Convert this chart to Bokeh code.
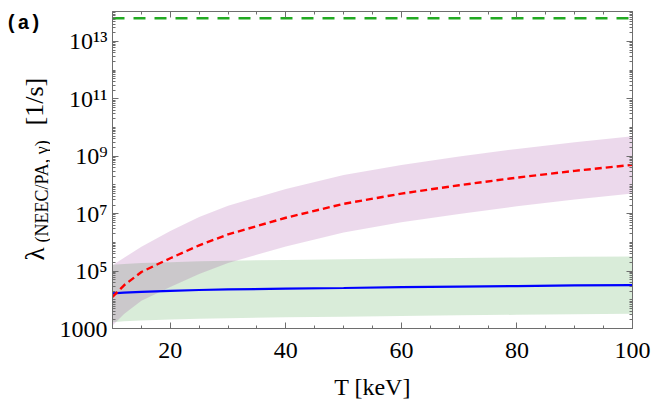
import numpy as np
from bokeh.plotting import figure
from bokeh.layouts import row
from bokeh.models import Range1d, FixedTicker, LinearAxis, LogAxis, Label, CustomJSTickFormatter
from bokeh.embed import file_html
from bokeh.resources import INLINE

# ---------------- data ----------------
T = [10, 12, 15, 20, 25, 30, 40, 50, 60, 70, 80, 90, 100]

# NEEC/PA rate (red dashed) and its uncertainty band (purple)
neec = [1.26e4, 3.2e4, 9.3e4, 2.8e5, 7.9e5, 1.9e6, 7.2e6, 2.2e7, 5.0e7, 9.8e7, 1.8e8, 3.1e8, 5.0e8]
neec_hi = [1.6e5, 2.9e5, 7.1e5, 2.5e6, 7.6e6, 1.9e7, 7.2e7, 2.2e8, 5.0e8, 9.8e8, 1.8e9, 3.1e9, 5.0e9]
neec_lo = [1.26e3, 3.2e3, 9.3e3, 2.8e4, 7.9e4, 1.9e5, 7.2e5, 2.2e6, 5.0e6, 9.8e6, 1.8e7, 3.1e7, 5.0e7]

# gamma rate (blue solid) and its band (green)
gam = [1.66e4, 1.78e4, 1.9e4, 2.04e4, 2.19e4, 2.29e4, 2.45e4, 2.57e4, 2.75e4, 2.88e4, 3.0e4, 3.16e4, 3.24e4]
gam_hi = [1.66e5, 1.78e5, 1.9e5, 2.04e5, 2.19e5, 2.29e5, 2.45e5, 2.57e5, 2.75e5, 2.88e5, 3.0e5, 3.16e5, 3.24e5]
gam_lo = [1.66e3, 1.78e3, 1.9e3, 2.04e3, 2.19e3, 2.29e3, 2.45e3, 2.57e3, 2.75e3, 2.88e3, 3.0e3, 3.16e3, 3.24e3]

# constant reference rate (green dashed)
T_ref = [10, 100]
ref_rate = [6.4e13, 6.4e13]

x_major = [20, 40, 60, 80, 100]
x_minor = [15, 25, 30, 35, 45, 50, 55, 65, 70, 75, 85, 90, 95]
y_major = [1e3, 1e5, 1e7, 1e9, 1e11, 1e13]
y_labels = ["1000", "10⁵", "10⁷", "10⁹", "10¹¹", "10¹³"]
y_minor = [k * 10.0 ** n for n in range(3, 15) for k in range(1, 10)
           if (k * 10.0 ** n) not in y_major and k * 10.0 ** n < 1.1e14]

SERIF = "Liberation Serif"
FRAME = "#6e6e6e"
H = 408
GW = 50          # width of the left gutter that carries the y title
MW = 606         # width of the main figure
FB = 328         # frame bottom (page px); gutter frame is synced to it

p = figure(width=MW, height=H, x_range=Range1d(10, 100), y_range=Range1d(1e3, 1.1e14),
           y_axis_type="log", output_backend="svg", toolbar_location=None,
           min_border_left=62, min_border_right=24, min_border_top=11, min_border_bottom=80)
p.grid.visible = False
p.outline_line_color = FRAME
p.background_fill_color = "white"
p.border_fill_color = "white"

# bands
p.varea(x=T, y1=gam_lo, y2=gam_hi, fill_color="#008000", fill_alpha=0.15)
p.varea(x=T, y1=neec_lo, y2=neec_hi, fill_color="#800080", fill_alpha=0.15)
# lines
p.line(T, gam, line_color="#0000ff", line_width=2.2)
p.line(T, neec, line_color="#ff0000", line_width=2.4, line_dash="7 4")
p.line(T_ref, ref_rate, line_color="#22aa22", line_width=2.4, line_dash="12 9")

xt = FixedTicker(ticks=x_major, minor_ticks=x_minor)
yt = FixedTicker(ticks=y_major, minor_ticks=y_minor)
blank = CustomJSTickFormatter(code="return ''")

def style_axis(ax, ticker):
    ax.ticker = ticker
    ax.axis_line_color = FRAME
    ax.major_tick_line_color = FRAME
    ax.minor_tick_line_color = FRAME
    ax.major_tick_in = 6
    ax.major_tick_out = 0
    ax.minor_tick_in = 3
    ax.minor_tick_out = 0

style_axis(p.xaxis[0], xt)
p.xaxis.major_label_text_font = SERIF
p.xaxis.major_label_text_font_size = "24px"
p.xaxis.major_label_text_color = "black"
p.xaxis.major_label_standoff = 14
p.xaxis.axis_label = "T [keV]"
p.xaxis.axis_label_text_font = SERIF
p.xaxis.axis_label_text_font_size = "24px"
p.xaxis.axis_label_text_font_style = "normal"
p.xaxis.axis_label_text_color = "black"
p.xaxis.axis_label_standoff = 13

style_axis(p.yaxis[0], yt)
p.yaxis.major_label_overrides = dict(zip(y_major, y_labels))
p.yaxis.major_label_text_font = SERIF
p.yaxis.major_label_text_font_size = "24px"
p.yaxis.major_label_text_color = "black"
p.yaxis.major_label_standoff = 5

top = LinearAxis()
style_axis(top, xt)
top.formatter = blank
top.major_label_standoff = 0
p.add_layout(top, "above")
right = LogAxis()
style_axis(right, yt)
right.formatter = blank
right.major_label_standoff = 0
p.add_layout(right, "right")

# left gutter with the rotated y title and the panel tag
# (screen px measured up from the synced frame bottom)
g = figure(width=GW, height=H, x_range=Range1d(0, 1), y_range=Range1d(0, 1),
           output_backend="svg", toolbar_location=None,
           x_axis_location=None, y_axis_location=None,
           min_border_left=0, min_border_right=0, min_border_top=0, min_border_bottom=0)
g.grid.visible = False
g.outline_line_color = None
g.border_fill_color = "white"

ang = np.pi / 2
g.add_layout(Label(x=34, y=FB - 260, x_units="screen", y_units="screen", text="λ", angle=ang,
                   text_align="left", text_baseline="alphabetic",
                   text_font=SERIF, text_font_size="27px", text_color="black"))
g.add_layout(Label(x=41, y=FB - 242, x_units="screen", y_units="screen", text="(NEEC/PA, γ)", angle=ang,
                   text_align="left", text_baseline="alphabetic",
                   text_font=SERIF, text_font_size="18px", text_color="black"))
g.add_layout(Label(x=34, y=FB - 125, x_units="screen", y_units="screen", text="[1/s]", angle=ang,
                   text_align="left", text_baseline="alphabetic",
                   text_font=SERIF, text_font_size="26px", text_color="black"))
g.add_layout(Label(x=5, y=FB - 11, x_units="screen", y_units="screen", text="(a)",
                   text_align="left", text_baseline="top",
                   text_font="Liberation Mono", text_font_style="bold",
                   text_font_size="20px", text_color="black"))

layout = row(g, p, spacing=0)
open("out.html", "w").write(file_html(layout, INLINE))
